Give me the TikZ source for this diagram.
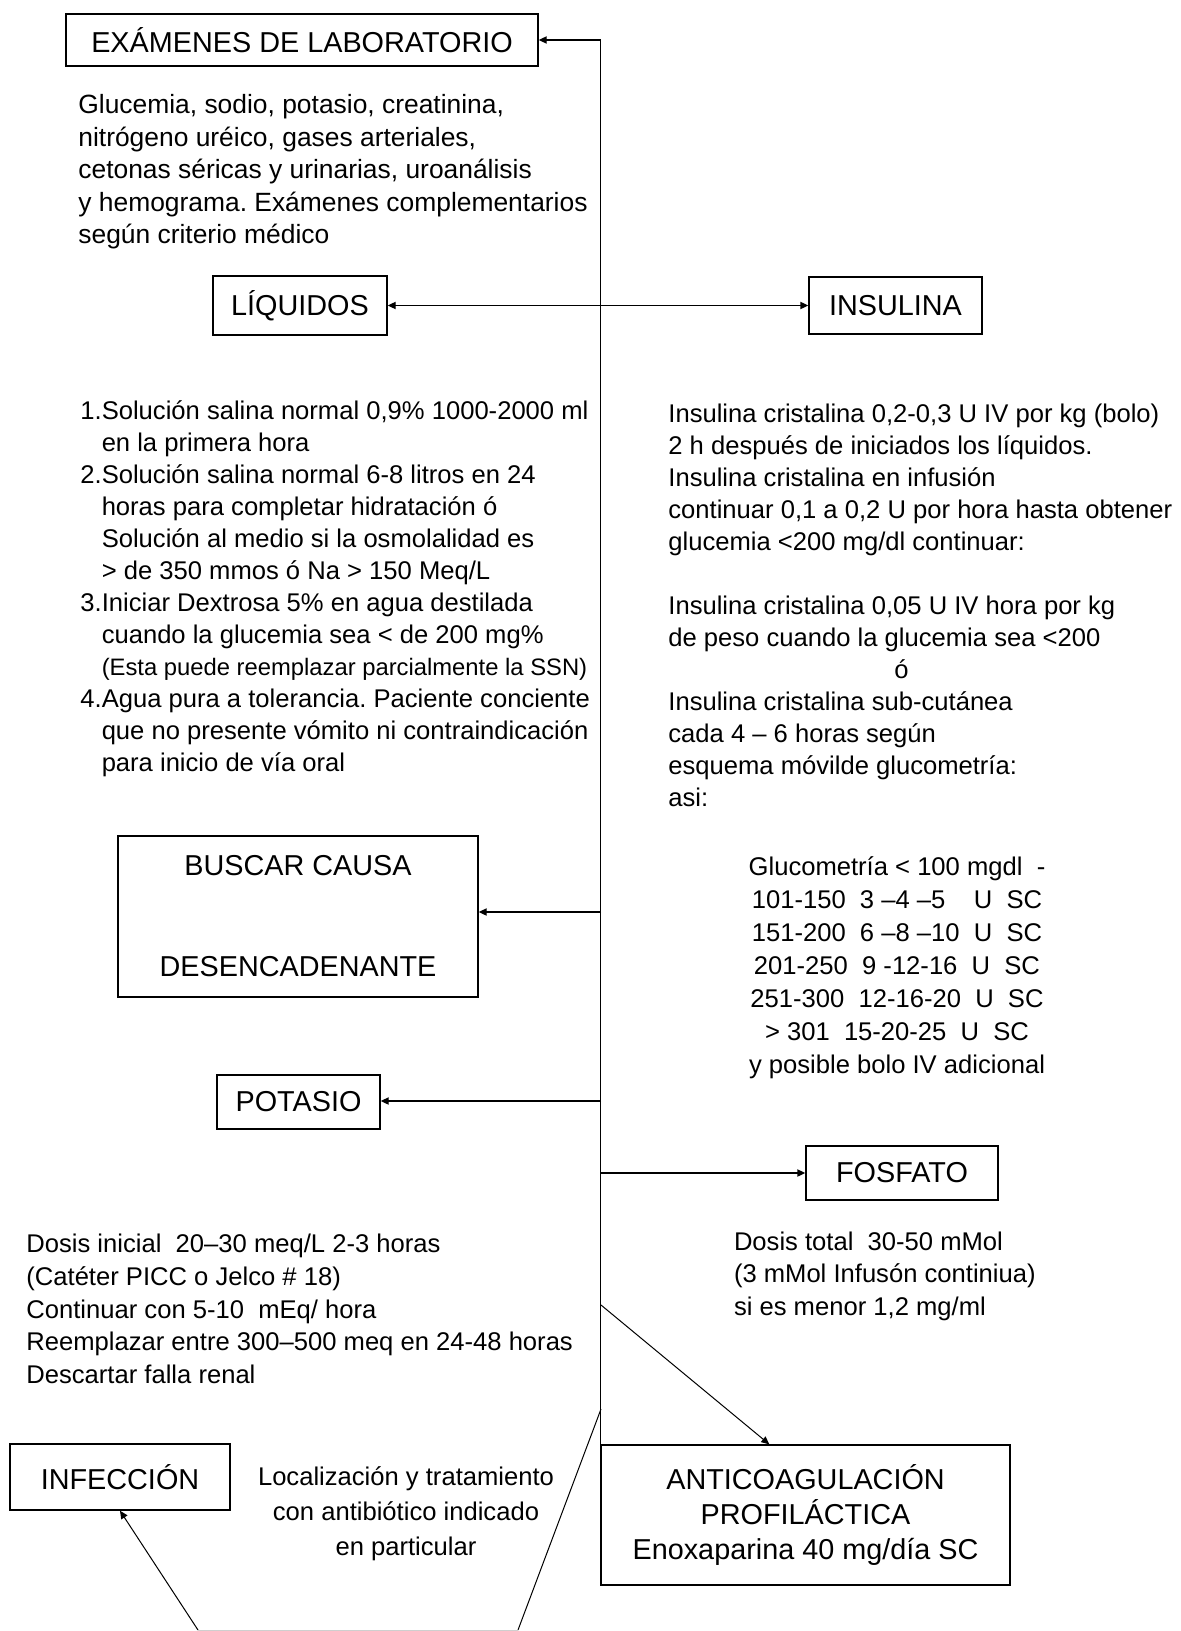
\documentclass[tikz,border=0pt]{standalone}
\usepackage{fontspec}
\setmainfont{Liberation Sans}
\usetikzlibrary{arrows.meta}
\definecolor{edgegray}{HTML}{CFCFCF}
\frenchspacing

\begin{document}
\begin{tikzpicture}[x=0.5pt,y=-0.5pt,
    every node/.style={inner sep=0pt},
    box/.style={draw,line width=0.7pt,font=\fontsize{14.4}{17.5}\selectfont,align=center},
    txt/.style={font=\fontsize{12.8}{16.3}\selectfont,align=left,anchor=west},
    link/.style={line width=0.7pt,-{Triangle[length=4pt,width=3.6pt]}},
    slant/.style={line width=0.5pt}]
  \useasboundingbox (0,0) rectangle (1180,1631);
  % boxes
  \draw
    (302,40) node[box,minimum width=236pt,minimum height=26pt] (lab) {EXÁMENES DE LABORATORIO}
    (300,305.5) node[box,minimum width=87pt,minimum height=29.5pt] (liq) {LÍQUIDOS}
    (895.5,305.5) node[box,minimum width=86.5pt,minimum height=28.5pt] (ins) {INSULINA}
    (298,916.5) node[box,minimum width=180pt,minimum height=80.5pt] (causa) {BUSCAR CAUSA\\[33pt]DESENCADENANTE}
    (298.5,1102) node[box,minimum width=81.5pt,minimum height=27pt] (pot) {POTASIO}
    (902,1173) node[box,minimum width=96pt,minimum height=27pt] (fos) {FOSFATO}
    (805.5,1515) node[box,minimum width=204.5pt,minimum height=70pt] (anti) {ANTICOAGULACIÓN\\PROFILÁCTICA\\Enoxaparina 40 mg/día SC}
    (120,1477) node[box,minimum width=110pt,minimum height=33pt] (inf) {INFECCIÓN};
  % texts
  \draw
    (78,172) node[txt,font=\fontsize{13.2}{16.25}\selectfont] (labtxt) {Glucemia, sodio, potasio, creatinina,\\nitrógeno uréico, gases arteriales,\\cetonas séricas y urinarias, uroanálisis\\y hemograma. Exámenes complementarios\\según criterio médico}
    (80,589.5) node[txt,font=\fontsize{12.8}{16}\selectfont] (liqtxt) {\begin{tabular}{@{}l@{}l@{}}
      1.&Solución salina normal 0,9\% 1000-2000 ml\\
      &en la primera hora\\
      2.&Solución salina normal 6-8 litros en 24\\
      &horas para completar hidratación ó\\
      &Solución al medio si la osmolalidad es\\
      &> de 350 mmos ó Na > 150 Meq/L\\
      3.&Iniciar Dextrosa 5\% en agua destilada\\
      &cuando la glucemia sea < de 200 mg\%\\
      &{\fontsize{11.9}{16}\selectfont (Esta puede reemplazar parcialmente la SSN)}\\
      4.&Agua pura a tolerancia. Paciente conciente\\
      &que no presente vómito ni contraindicación\\
      &para inicio de vía oral
    \end{tabular}}
    (668,605.5) node[txt,font=\fontsize{12.8}{16}\selectfont] (instxt) {Insulina cristalina 0,2-0,3 U IV por kg (bolo)\\2 h después de iniciados los líquidos.\\Insulina cristalina en infusión\\continuar 0,1 a 0,2 U por hora hasta obtener\\glucemia <200 mg/dl continuar:\\[16pt]Insulina cristalina 0,05 U IV hora por kg\\de peso cuando la glucemia sea <200\\\hspace*{113pt}ó\\Insulina cristalina sub-cutánea\\cada 4 – 6 horas según\\esquema móvilde glucometría:\\asi:}
    (897,968) node[txt,anchor=center,align=center,font=\fontsize{12.8}{16.5}\selectfont] (gluco) {Glucometría < 100 mgdl~~-\\101-150~~3 –4 –5~~~~U~~SC\\151-200~~6 –8 –10~~U~~SC\\201-250~~9 -12-16~~U~~SC\\251-300~~12-16-20~~U~~SC\\> 301~~15-20-25~~U~~SC\\y posible bolo IV adicional}
    (26,1309) node[txt] (pottxt) {Dosis inicial~~20–30 meq/L 2-3 horas\\(Catéter PICC o Jelco \# 18)\\Continuar con 5-10~~mEq/ hora\\Reemplazar entre 300–500 meq en 24-48 horas\\Descartar falla renal}
    (733.6,1276) node[txt] (fostxt) {Dosis total~~30-50 mMol\\(3 mMol Infusón continiua)\\si es menor 1,2 mg/ml}
    (406,1514) node[txt,anchor=center,align=center,font=\fontsize{12.8}{17.5}\selectfont] (inftxt) {Localización y tratamiento\\con antibiótico indicado\\en particular};
  % points on the trunk
  \coordinate (tcausa) at (601,912);
  \coordinate (tpot) at (601,1101);
  \coordinate (tfos) at (601,1173);
  \coordinate (tanti) at (601,1305);
  \coordinate (tinf) at (601,1409);
  \coordinate (b1) at (198,1630);
  \coordinate (b2) at (518,1630);
  % connectors
  \draw[link] (anti.north west) |- (lab.east);
  \draw[link,{Triangle[length=4pt,width=3.6pt]}-{Triangle[length=4pt,width=3.6pt]}] (liq) -- (ins);
  \draw[link] (tcausa) -- (tcausa -| causa.east);
  \draw[link] (tpot) -- (tpot -| pot.east);
  \draw[link] (tfos) -- (tfos -| fos.west);
  \draw[slant,-{Triangle[length=4pt,width=3.6pt]}] (tanti) -- ([xshift=84.5pt]anti.north west);
  \draw[slant] (tinf) -- (b2);
  \draw[slant,-{Triangle[length=4pt,width=3.6pt]}] (b1) -- (inf.south);
  \draw[edgegray,line width=0.5pt] (b1) -- (b2);
\end{tikzpicture}
\end{document}
